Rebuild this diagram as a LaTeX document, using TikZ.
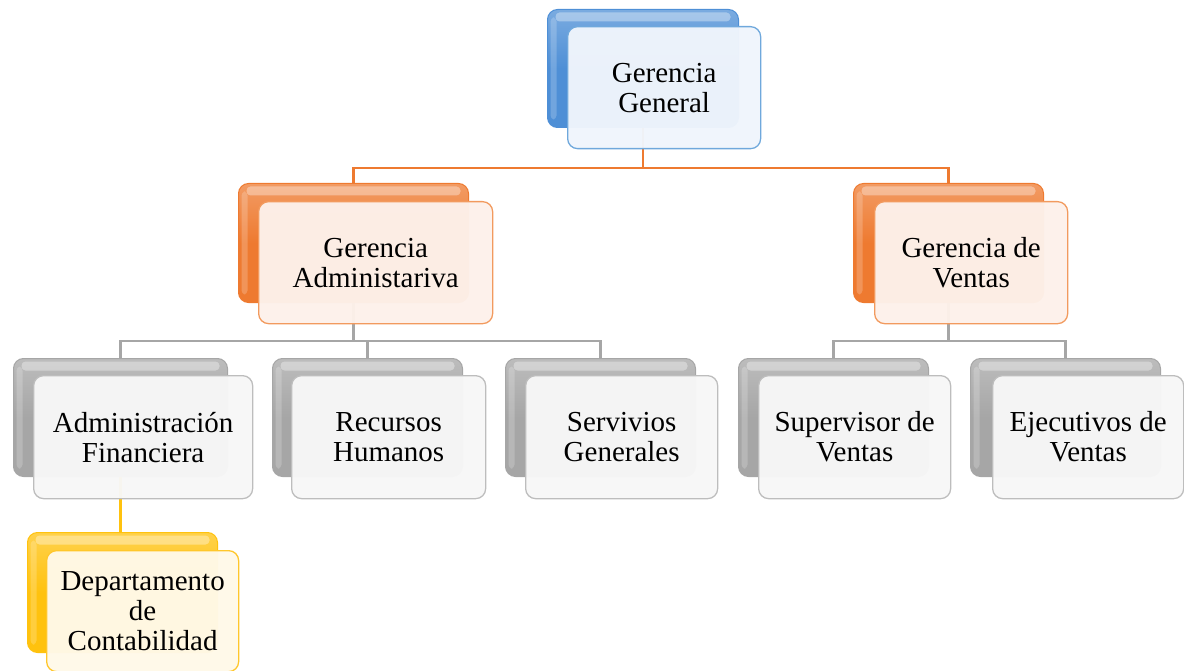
\documentclass[tikz,border=0pt]{standalone}
\usepackage{fontspec}
\setmainfont{Liberation Serif}
\usetikzlibrary{calc}
\definecolor{cblue}{HTML}{4E8FD6}
\definecolor{cbluel}{HTML}{6FA8DC}
\definecolor{cbluef}{HTML}{F0F5FC}
\definecolor{corange}{HTML}{EE7A30}
\definecolor{corangel}{HTML}{F29A5E}
\definecolor{corangef}{HTML}{FDF1EA}
\definecolor{cgray}{HTML}{A6A6A6}
\definecolor{cgrayl}{HTML}{BDBDBD}
\definecolor{cgrayf}{HTML}{F7F7F7}
\definecolor{cyellow}{HTML}{FFC20E}
\definecolor{cyellowl}{HTML}{FFC72C}
\definecolor{cyellowf}{HTML}{FFF9E8}
\tikzset{
  backbox/.style={draw=#1, line width=1pt, rounded corners=10pt, inner sep=0pt,
    anchor=north west, top color=#1!75!white, bottom color=#1, middle color=#1,
    path picture={
      \fill[white,opacity=0.35,rounded corners=4pt]
        ($(path picture bounding box.north west)+(8pt,-3pt)$) rectangle
        ($(path picture bounding box.north east)+(-8pt,-12pt)$);
      \fill[white,opacity=0.2,rounded corners=4pt]
        ($(path picture bounding box.north west)+(3pt,-8pt)$) rectangle
        ($(path picture bounding box.south west)+(9pt,8pt)$);
    }},
  frontbox/.style 2 args={draw=#1, line width=1.3pt, rounded corners=10pt, inner sep=0pt,
    anchor=north west, fill=#2, fill opacity=0.97, text opacity=1,
    align=center, font=\fontsize{29}{30}\selectfont},
  oline/.style={draw=corange, line width=2.2pt},
  gline/.style={draw=cgray, line width=2.2pt},
  yline/.style={draw=cyellow, line width=2.2pt},
}
\begin{document}
\begin{tikzpicture}[x=1pt,y=1pt]
\useasboundingbox (0,0) rectangle (1184,-671);
% back boxes
\node[backbox=cblue, minimum width=191pt, minimum height=118pt] (ggb) at (547,-9) {};
\node[backbox=corange, minimum width=230pt, minimum height=119pt] (gab) at (238,-183) {};
\node[backbox=corange, minimum width=190pt, minimum height=119pt] (gvb) at (853,-183) {};
\node[backbox=cgray, minimum width=214pt, minimum height=118pt] (afb) at (13,-358) {};
\node[backbox=cgray, minimum width=190pt, minimum height=118pt] (rhb) at (272,-358) {};
\node[backbox=cgray, minimum width=190pt, minimum height=118pt] (sgb) at (505,-358) {};
\node[backbox=cgray, minimum width=190pt, minimum height=118pt] (svb) at (738,-358) {};
\node[backbox=cgray, minimum width=190pt, minimum height=118pt] (evb) at (970,-358) {};
\node[backbox=cyellow, minimum width=190pt, minimum height=120pt] (dcb) at (27,-532) {};
% connectors
\draw[oline] (ggb.south) -- ++(0,-40) -| (gab.north);
\draw[oline] (ggb.south) -- ++(0,-40) -| (gvb.north);
\draw[gline] (gab.south) -- ++(0,-38) -| (afb.north);
\draw[gline] (gab.south) -- ++(0,-38) -| (rhb.north);
\draw[gline] (gab.south) -- ++(0,-38) -| (sgb.north);
\draw[gline] (gvb.south) -- ++(0,-38) -| (svb.north);
\draw[gline] (gvb.south) -- ++(0,-38) -| (evb.north);
\draw[yline] (afb.south) -- (afb.south |- dcb.north);
% front boxes
\node[frontbox={cbluel}{cbluef}, minimum width=193pt, minimum height=122pt] (gg) at (567,-26) {Gerencia\\General};
\node[frontbox={corangel}{corangef}, minimum width=234pt, minimum height=122pt] (ga) at (258,-201) {Gerencia\\Administariva};
\node[frontbox={corangel}{corangef}, minimum width=193pt, minimum height=122pt] (gv) at (874,-201) {Gerencia de\\Ventas};
\node[frontbox={cgrayl}{cgrayf}, minimum width=219pt, minimum height=123pt] (af) at (33,-375) {Administración\\Financiera};
\node[frontbox={cgrayl}{cgrayf}, minimum width=194pt, minimum height=123pt] (rh) at (291,-375) {Recursos\\Humanos};
\node[frontbox={cgrayl}{cgrayf}, minimum width=192pt, minimum height=123pt] (sg) at (525,-375) {Servivios\\Generales};
\node[frontbox={cgrayl}{cgrayf}, minimum width=192pt, minimum height=123pt] (sv) at (758,-375) {Supervisor de\\Ventas};
\node[frontbox={cgrayl}{cgrayf}, minimum width=191pt, minimum height=123pt] (ev) at (992,-375) {Ejecutivos de\\Ventas};
\node[frontbox={cyellowl}{cyellowf}, minimum width=192pt, minimum height=121pt] (dc) at (46,-550) {Departamento\\de\\Contabilidad};
\end{tikzpicture}
\end{document}
